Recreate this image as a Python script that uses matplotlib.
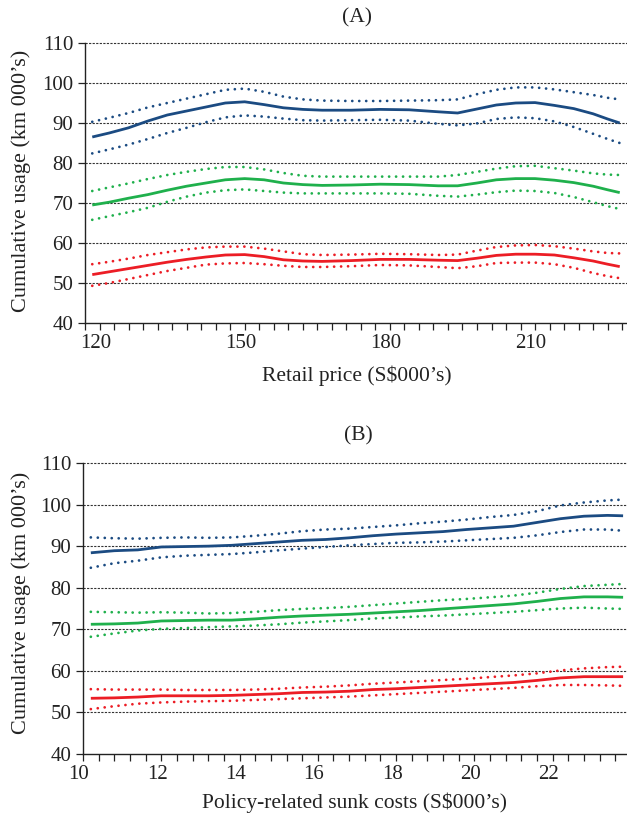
import matplotlib
matplotlib.use("Agg")
import matplotlib.pyplot as plt
import matplotlib.transforms as mtransforms
import numpy as np

# ---------------- Panel A data ----------------
price = [118.5, 122, 126, 130, 134, 138, 142, 146, 150, 154, 158, 162, 166, 172,
         178, 184, 190, 194, 198, 202, 206, 210, 214, 218, 222, 225, 227.5]
a_blue = [86.5, 87.5, 88.8, 90.5, 92.0, 93.0, 94.0, 95.0, 95.3, 94.6, 93.8, 93.4, 93.2, 93.2,
          93.4, 93.3, 92.8, 92.5, 93.5, 94.5, 95.0, 95.1, 94.4, 93.6, 92.3, 91.0, 90.0]
a_blue_hi = [90.3, 91.3, 92.5, 93.9, 95.0, 96.1, 97.2, 98.3, 98.6, 97.8, 96.6, 95.9, 95.6, 95.5,
             95.5, 95.6, 95.7, 95.9, 97.2, 98.3, 98.9, 98.9, 98.4, 97.7, 97.0, 96.3, 95.9]
a_blue_lo = [82.4, 83.4, 84.6, 86.0, 87.5, 88.8, 90.2, 91.4, 91.9, 91.6, 91.1, 90.7, 90.6, 90.7,
             90.8, 90.6, 89.8, 89.4, 89.9, 91.0, 91.4, 91.2, 90.4, 89.0, 87.3, 86.0, 85.0]
a_green = [69.5, 70.2, 71.2, 72.1, 73.2, 74.2, 75.0, 75.8, 76.1, 75.8, 75.0, 74.6, 74.4, 74.5,
           74.7, 74.6, 74.3, 74.3, 75.0, 75.8, 76.1, 76.1, 75.7, 75.1, 74.2, 73.3, 72.6]
a_green_hi = [73.0, 73.9, 74.9, 76.0, 77.0, 77.8, 78.5, 79.0, 79.0, 78.4, 77.5, 76.8, 76.6, 76.6,
              76.6, 76.6, 76.6, 77.0, 77.8, 78.6, 79.2, 79.3, 78.7, 78.1, 77.4, 77.1, 77.0]
a_green_lo = [65.8, 66.7, 67.7, 68.8, 70.3, 71.6, 72.6, 73.2, 73.4, 73.0, 72.6, 72.4, 72.4, 72.4,
              72.4, 72.3, 71.8, 71.6, 72.1, 72.7, 73.1, 73.0, 72.5, 71.5, 70.2, 69.2, 68.5]
a_red = [52.1, 52.8, 53.6, 54.4, 55.2, 55.9, 56.5, 57.0, 57.1, 56.6, 55.8, 55.5, 55.4, 55.6,
         55.9, 55.9, 55.7, 55.6, 56.2, 56.9, 57.2, 57.2, 57.0, 56.3, 55.5, 54.7, 54.1]
a_red_hi = [54.7, 55.3, 56.1, 57.0, 57.7, 58.4, 58.9, 59.1, 59.1, 58.6, 57.9, 57.2, 57.0, 57.1,
            57.3, 57.2, 57.0, 57.1, 58.1, 59.0, 59.4, 59.5, 59.2, 58.6, 57.9, 57.5, 57.4]
a_red_lo = [49.3, 50.0, 51.0, 52.0, 53.0, 53.8, 54.6, 54.9, 55.0, 54.7, 54.3, 54.0, 54.0, 54.2,
            54.5, 54.4, 54.0, 53.7, 54.2, 55.0, 55.1, 55.1, 54.7, 53.8, 52.5, 51.7, 51.2]

# ---------------- Panel B data ----------------
sunk = [10.2, 10.8, 11.4, 12.0, 12.6, 13.2, 13.8, 14.4, 15.0, 15.6, 16.2, 16.8,
        17.4, 18.0, 18.6, 19.2, 19.8, 20.4, 21.0, 21.6, 22.2, 22.8, 23.4, 23.8]
b_blue = [88.4, 88.9, 89.1, 89.8, 89.9, 90.0, 90.2, 90.6, 91.0, 91.4, 91.6, 92.0,
          92.5, 92.9, 93.2, 93.5, 94.0, 94.4, 94.8, 95.7, 96.6, 97.2, 97.4, 97.3]
b_blue_hi = [92.1, 91.9, 91.8, 92.0, 92.1, 92.0, 92.1, 92.5, 93.0, 93.6, 94.0, 94.2,
             94.6, 95.0, 95.5, 95.9, 96.4, 97.0, 97.5, 98.4, 99.8, 100.5, 101.0, 101.2]
b_blue_lo = [84.8, 85.9, 86.5, 87.3, 87.7, 87.9, 88.1, 88.5, 89.0, 89.4, 89.8, 90.2,
             90.5, 90.8, 90.9, 91.1, 91.4, 91.7, 92.0, 92.6, 93.4, 94.0, 94.0, 93.7]
b_green = [71.2, 71.3, 71.5, 72.0, 72.1, 72.2, 72.2, 72.5, 72.9, 73.2, 73.4, 73.6,
           73.9, 74.2, 74.5, 74.9, 75.3, 75.7, 76.1, 76.7, 77.4, 77.8, 77.8, 77.7]
b_green_hi = [74.2, 74.1, 74.0, 74.1, 74.0, 73.8, 73.9, 74.2, 74.6, 74.9, 75.1, 75.4,
              75.8, 76.2, 76.6, 77.0, 77.3, 77.7, 78.1, 78.8, 79.7, 80.4, 80.7, 80.9]
b_green_lo = [68.2, 69.0, 69.7, 70.1, 70.3, 70.5, 70.7, 70.9, 71.2, 71.6, 71.9, 72.2,
              72.6, 72.8, 73.1, 73.3, 73.6, 73.9, 74.2, 74.6, 75.0, 75.2, 75.0, 74.9]
b_red = [53.4, 53.5, 53.7, 54.0, 54.0, 54.0, 54.1, 54.3, 54.5, 54.8, 54.9, 55.1,
         55.5, 55.7, 56.0, 56.3, 56.6, 56.9, 57.2, 57.7, 58.3, 58.6, 58.6, 58.6]
b_red_hi = [55.6, 55.5, 55.5, 55.5, 55.4, 55.4, 55.4, 55.5, 55.7, 56.0, 56.2, 56.5,
            56.9, 57.2, 57.5, 57.8, 58.1, 58.5, 58.9, 59.4, 60.1, 60.6, 60.9, 61.0]
b_red_lo = [50.8, 51.5, 52.1, 52.4, 52.6, 52.7, 52.8, 53.0, 53.2, 53.4, 53.6, 53.8,
            54.1, 54.4, 54.7, 55.0, 55.3, 55.6, 55.9, 56.3, 56.6, 56.6, 56.5, 56.4]

a_ticklabels = [120, 150, 180, 210]
b_ticklabels = [10, 12, 14, 16, 18, 20, 22]
y_ticks = [40, 50, 60, 70, 80, 90, 100, 110]

BLUE = "#1b4b82"
GREEN = "#1fb04c"
RED = "#ec1d25"
TXT = "#222222"
FS = 15

plt.rcParams['font.family'] = ['Liberation Serif', 'DejaVu Serif']

W, H = 627, 817
fig = plt.figure(figsize=(W/100, H/100), dpi=100)
axA = fig.add_axes([85/W, 1-323/H, 542/W, 280/H])
axB = fig.add_axes([83/W, 1-754/H, 544/W, 291/H])

dot = (0, (0.01, 2.5))

def draw(ax, x, groups):
    for c, mid, hi, lo in groups:
        ax.plot(x, hi, color=c, lw=2.0, linestyle=dot, dash_capstyle='round')
        ax.plot(x, lo, color=c, lw=2.0, linestyle=dot, dash_capstyle='round')
        ax.plot(x, mid, color=c, lw=2.0, solid_capstyle='butt')

def style(ax):
    ax.set_ylim(40, 110)
    ax.set_yticks(y_ticks)
    for y in y_ticks[1:]:
        ax.axhline(y, color='#333333', lw=0.8, linestyle=(0, (2.0, 1.2)), zorder=0, clip_on=False)
    for s in ['top', 'right']:
        ax.spines[s].set_visible(False)
    ax.spines['left'].set_linewidth(1.0)
    ax.spines['bottom'].set_linewidth(1.0)
    ax.spines['left'].set_color(TXT)
    ax.spines['bottom'].set_color(TXT)
    ax.tick_params(direction='out', length=5, width=0.9, labelsize=FS, colors=TXT)
    ax.tick_params(axis='x', pad=3)

def shift_xlabels(ax, dx_px):
    off = mtransforms.ScaledTranslation(dx_px/100, 0, fig.dpi_scale_trans)
    for t in ax.xaxis.get_major_ticks():
        t.label1.set_transform(t.label1.get_transform() + off)

draw(axA, price, [(BLUE, a_blue, a_blue_hi, a_blue_lo),
                  (GREEN, a_green, a_green_hi, a_green_lo),
                  (RED, a_red, a_red_hi, a_red_lo)])
style(axA)
axA.set_xlim(117, 229)
ticksA = list(np.arange(117, 229, 3))
axA.set_xticks(ticksA)
axA.set_xticklabels([str(int(t)) if int(t) in a_ticklabels else "" for t in ticksA])
shift_xlabels(axA, -4)

draw(axB, sunk, [(BLUE, b_blue, b_blue_hi, b_blue_lo),
                 (GREEN, b_green, b_green_hi, b_green_lo),
                 (RED, b_red, b_red_hi, b_red_lo)])
style(axB)
axB.set_xlim(10, 23.9)
ticksB = [round(10 + 0.4*i, 1) for i in range(35)]
axB.set_xticks(ticksB)
axB.set_xticklabels([str(int(round(t))) if (abs(t - round(t)) < 1e-6 and int(round(t)) in b_ticklabels) else "" for t in ticksB])
shift_xlabels(axB, -4)

# text labels placed in figure pixel positions
def ftext(x, y, s, fs=FS, **kw):
    fig.text(x/W, 1-y/H, s, fontsize=fs, color=TXT, ha='center', va='center', **kw)

ftext(357, 18, "(A)", 15.5)
ftext(358, 436, "(B)", 15.5)
ftext(357, 376, "Retail price (S$000\u2019s)", 15.5)
ftext(355, 803, "Policy-related sunk costs (S$000\u2019s)", 15.5)
ftext(21, 181, "Cumulative usage (km 000\u2019s)", 16, rotation=90)
ftext(21, 603, "Cumulative usage (km 000\u2019s)", 16, rotation=90)

fig.savefig("out.png", dpi=100)
